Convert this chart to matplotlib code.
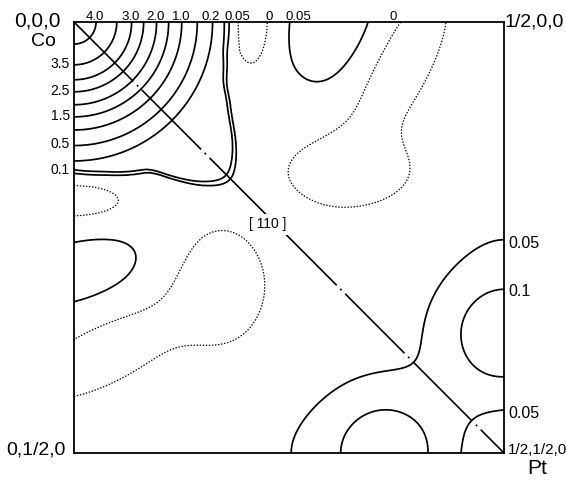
import numpy as np
import matplotlib
matplotlib.use("Agg")
import matplotlib.pyplot as plt

plt.rcParams["font.family"] = ["Liberation Sans", "DejaVu Sans"]
plt.rcParams["lines.scale_dashes"] = False

# ---- map data (reciprocal-lattice units, 0 .. 1/2 along [100] and [010]) ----
# Co peak at 0,0,0: radius of each labelled contour
peak_radius = [0.0, 0.0244, 0.0488, 0.0663, 0.0802, 0.0953, 0.1093, 0.1244, 0.1419, 0.1593, 0.1744]
peak_value = [4.5, 4.0, 3.5, 3.0, 2.5, 2.0, 1.5, 1.0, 0.5, 0.2, 0.0]

# low shelf round the Co peak: outline radius against direction (deg from [100])
shelf_angle = [0, 11, 22, 31, 38, 41, 44.5, 46.3, 51.3, 58, 62.5, 79, 90]
shelf_edge = [0.1779, 0.1779, 0.1867, 0.2092, 0.2350, 0.2450, 0.2540, 0.2550,
              0.2395, 0.2100, 0.1914, 0.1773, 0.1721]
shelf_scaled_r = [0.0, 0.9, 1.0, 1.02, 1.1]
shelf_value = [0.12, 0.12, 0.075, 0.025, 0.0]

background = 0.025

# local maxima / minima of the low-level density
feat_x = [0.2081, 0.2990, 0.3198, 0.3779, 0.0, 0.0, 0.1686, 0.0349,
          0.5, 0.5, 0.3605, 0.3605, 0.5]
feat_y = [0.0, 0.0, 0.1721, 0.0523, 0.2081, 0.2907, 0.3058, 0.3860,
          0.3605, 0.3605, 0.5, 0.5, 0.5]
feat_sx = [0.0170, 0.0430, 0.0535, 0.0267, 0.0407, 0.0680, 0.0395, 0.0698,
           0.0523, 0.0523, 0.0465, 0.1279, 0.0372]
feat_sy = [0.0413, 0.0622, 0.0302, 0.0756, 0.0140, 0.0290, 0.0500, 0.0256,
           0.0465, 0.1279, 0.0523, 0.0523, 0.0372]
feat_angle = [0, 17.5, 0, 28, 0, -15, 0, -26.6, 0, 0, 0, 0, 0]
feat_amp = [-0.06, 0.05, -0.06, -0.06, -0.06, 0.05, -0.06, -0.06,
            0.09, 0.027, 0.09, 0.027, -0.05]

levels = [0.0, 0.05, 0.1, 0.2, 0.5, 1.0, 1.5, 2.0, 2.5, 3.0, 3.5, 4.0]

top_labels = ["4.0", "3.0", "2.0", "1.0", "0.2"]
top_levels = [4.0, 3.0, 2.0, 1.0, 0.2]
left_labels = ["3.5", "2.5", "1.5", "0.5"]
left_levels = [3.5, 2.5, 1.5, 0.5]
top_extra_labels = ["0.05", "0", "0.05", "0"]
top_extra_x = [0.1895, 0.2267, 0.2605, 0.3710]
left_extra_labels = ["0.1"]
left_extra_y = [0.1721]
right_labels = ["0.05", "0.1", "0.05"]
right_y = [0.2570, 0.3128, 0.4547]

# ---- field ----
n = 701
x = np.linspace(0, 0.5, n)
X, Y = np.meshgrid(x, x)
R = np.hypot(X, Y)
peak = np.interp(R, peak_radius, peak_value)

# smooth outline of the shelf (gaussian-weighted along the angle)
ang_fine = np.linspace(-30, 120, 601)
edge_lin = np.interp(ang_fine, shelf_angle, shelf_edge)
k = np.exp(-0.5 * (np.arange(-12, 13) * 0.25 / 2.5) ** 2)
k /= k.sum()
edge_fine = np.convolve(np.pad(edge_lin, 12, mode="edge"), k, mode="valid")
phi = np.degrees(np.arctan2(Y, X))
edge = np.interp(phi, ang_fine, edge_fine)
shelf = np.interp(R / edge, shelf_scaled_r, shelf_value)

F = np.maximum(peak, shelf) + background
for cx, cy, sx, sy, ang, amp in zip(feat_x, feat_y, feat_sx, feat_sy, feat_angle, feat_amp):
    t = np.deg2rad(ang)
    dx, dy = X - cx, Y - cy
    u = np.cos(t) * dx + np.sin(t) * dy
    v = -np.sin(t) * dx + np.cos(t) * dy
    F = F + amp * np.exp(-0.5 * ((u / sx) ** 2 + (v / sy) ** 2))

# ---- figure ----
W, H = 566, 482
fig = plt.figure(figsize=(W / 100, H / 100), dpi=100)
ax = fig.add_axes([74 / W, 1 - 453 / H, 430 / W, 431 / H])
ax.set_xlim(0, 0.5)
ax.set_ylim(0.5, 0)
ax.set_xticks([])
ax.set_yticks([])
for s in ax.spines.values():
    s.set_linewidth(1.3)
    s.set_color("black")

ax.contour(X, Y, F, levels=[0.0], colors="black", linewidths=0.9,
           linestyles=[(0, (1.0, 1.2))])
ax.contour(X, Y, F, levels=levels[1:], colors="black", linewidths=1.25,
           linestyles="solid")

# [110] direction
ax.plot([0, 0.5], [0, 0.5], color="black", lw=1.2,
        linestyle=(0, (60.5, 3.6, 1.4, 3.6)))
ax.text(0.2256, 0.2349, "[ 110 ]", ha="center", va="center", fontsize=10,
        bbox=dict(facecolor="white", edgecolor="none", pad=2.5))

# contour labels on the edges
lab = dict(fontsize=9.5, color="black")
for t, lv in zip(top_labels, top_levels):
    xr = np.interp(-lv, [-v for v in peak_value], peak_radius)
    ax.annotate(t, (xr, 0), xytext=(0, 1.2), textcoords="offset points",
                ha="center", va="baseline", annotation_clip=False, **lab)
for t, xr in zip(top_extra_labels, top_extra_x):
    ax.annotate(t, (xr, 0), xytext=(0, 1.2), textcoords="offset points",
                ha="center", va="baseline", annotation_clip=False, **lab)
for t, lv in zip(left_labels, left_levels):
    yr = np.interp(-lv, [-v for v in peak_value], peak_radius)
    ax.annotate(t, (0, yr), xytext=(-3, 0), textcoords="offset points",
                ha="right", va="center", annotation_clip=False, fontsize=10)
for t, yr in zip(left_extra_labels, left_extra_y):
    ax.annotate(t, (0, yr), xytext=(-3, 0), textcoords="offset points",
                ha="right", va="center", annotation_clip=False, fontsize=10)
for t, yr in zip(right_labels, right_y):
    ax.annotate(t, (0.5, yr), xytext=(3, 0), textcoords="offset points",
                ha="left", va="center", annotation_clip=False, fontsize=11.5)

# corner sites
fig.text(37 / W, 1 - 21 / H, "0,0,0", ha="center", va="center", fontsize=15)
fig.text(43 / W, 1 - 42 / H, "Co", ha="center", va="center", fontsize=14)
fig.text(505 / W, 1 - 22 / H, "1/2,0,0", ha="left", va="center", fontsize=14)
fig.text(6 / W, 1 - 450 / H, "0,1/2,0", ha="left", va="center", fontsize=14)
fig.text(508 / W, 1 - 450 / H, "1/2,1/2,0", ha="left", va="center", fontsize=11)
fig.text(537 / W, 1 - 469 / H, "Pt", ha="center", va="center", fontsize=15)

fig.savefig("out.png", dpi=100, facecolor="white")
